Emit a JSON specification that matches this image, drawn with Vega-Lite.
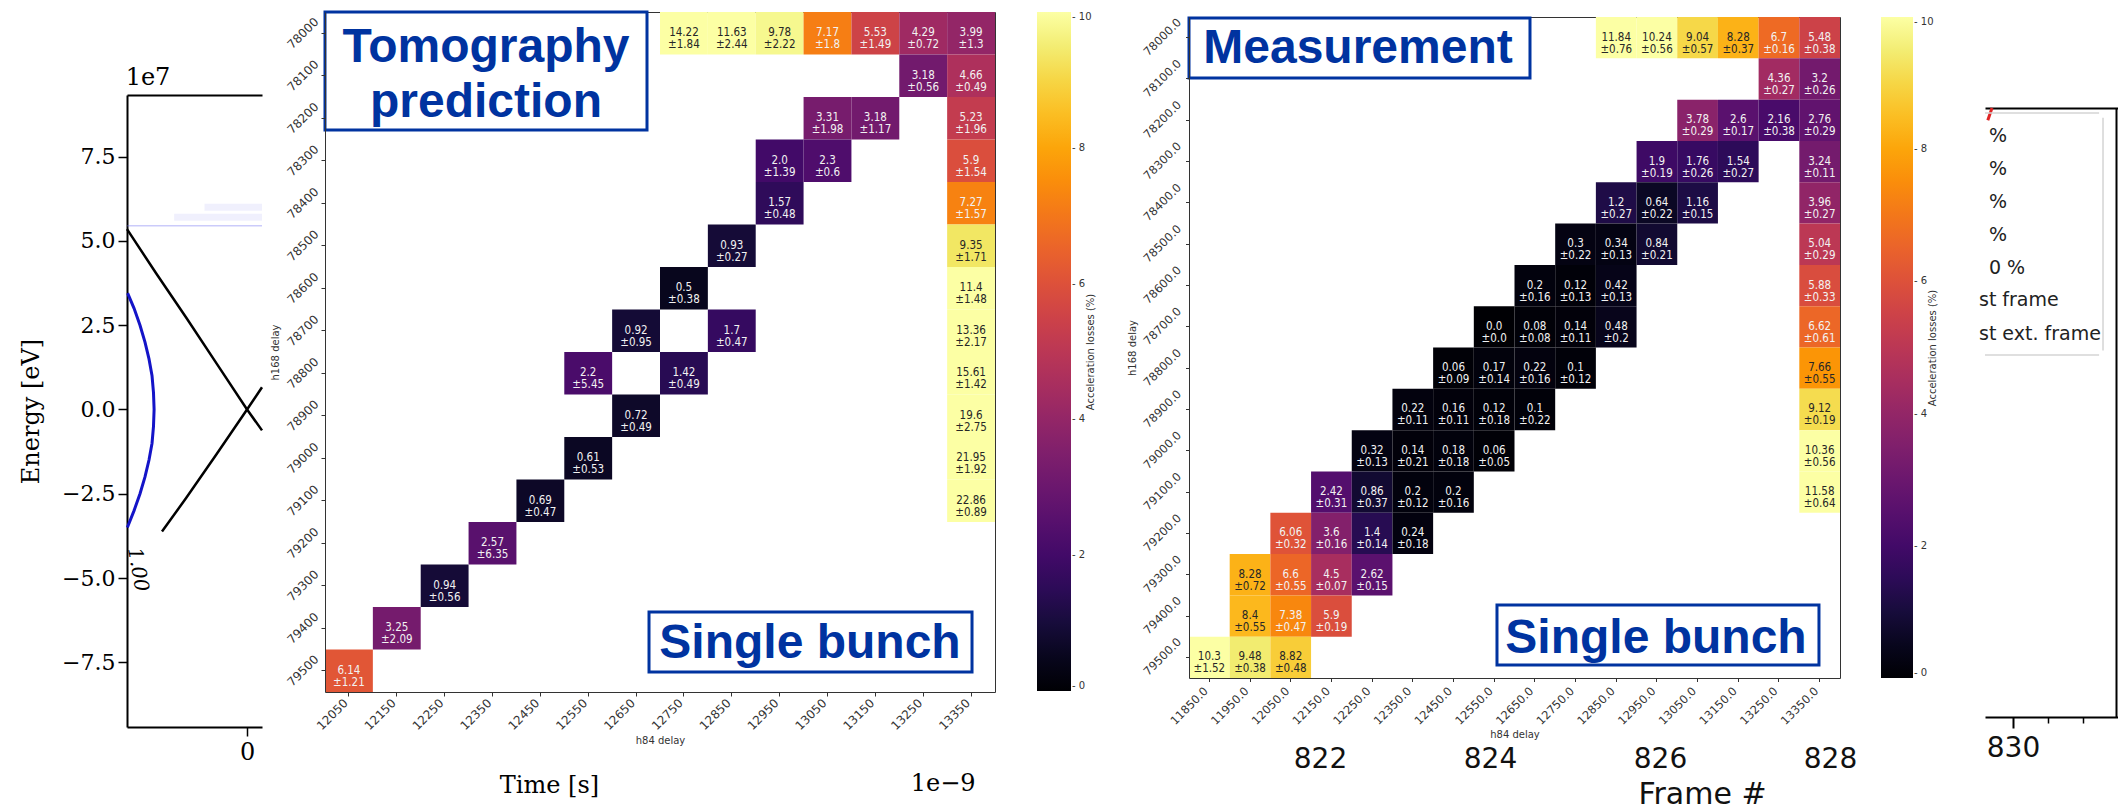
{
  "$schema": "https://vega.github.io/schema/vega-lite/v6.json",
  "width": 2118,
  "height": 809,
  "autosize": "none",
  "padding": 0,
  "background": "white",
  "config": {
    "view": {"stroke": null},
    "axis": {"grid": false, "labelFont": "DejaVu Sans", "titleFont": "DejaVu Sans", "titleFontWeight": "normal", "labelColor": "#333", "titleColor": "#333", "domainColor": "#333", "tickColor": "#333"},
    "legend": {"labelFont": "DejaVu Sans", "titleFont": "DejaVu Sans", "titleFontWeight": "normal"}
  },
  "datasets": {
    "tomo": [
      {"h84": 12750, "h168": 78000, "v": 14.22, "e": 1.84}, {"h84": 12850, "h168": 78000, "v": 11.63, "e": 2.44}, {"h84": 12950, "h168": 78000, "v": 9.78, "e": 2.22}, {"h84": 13050, "h168": 78000, "v": 7.17, "e": 1.8}, {"h84": 13150, "h168": 78000, "v": 5.53, "e": 1.49}, {"h84": 13250, "h168": 78000, "v": 4.29, "e": 0.72}, {"h84": 13350, "h168": 78000, "v": 3.99, "e": 1.3},
      {"h84": 13250, "h168": 78100, "v": 3.18, "e": 0.56}, {"h84": 13350, "h168": 78100, "v": 4.66, "e": 0.49},
      {"h84": 13050, "h168": 78200, "v": 3.31, "e": 1.98}, {"h84": 13150, "h168": 78200, "v": 3.18, "e": 1.17}, {"h84": 13350, "h168": 78200, "v": 5.23, "e": 1.96},
      {"h84": 12950, "h168": 78300, "v": 2.0, "e": 1.39}, {"h84": 13050, "h168": 78300, "v": 2.3, "e": 0.6}, {"h84": 13350, "h168": 78300, "v": 5.9, "e": 1.54},
      {"h84": 12950, "h168": 78400, "v": 1.57, "e": 0.48}, {"h84": 13350, "h168": 78400, "v": 7.27, "e": 1.57},
      {"h84": 12850, "h168": 78500, "v": 0.93, "e": 0.27}, {"h84": 13350, "h168": 78500, "v": 9.35, "e": 1.71},
      {"h84": 12750, "h168": 78600, "v": 0.5, "e": 0.38}, {"h84": 13350, "h168": 78600, "v": 11.4, "e": 1.48},
      {"h84": 12650, "h168": 78700, "v": 0.92, "e": 0.95}, {"h84": 12850, "h168": 78700, "v": 1.7, "e": 0.47}, {"h84": 13350, "h168": 78700, "v": 13.36, "e": 2.17},
      {"h84": 12550, "h168": 78800, "v": 2.2, "e": 5.45}, {"h84": 12750, "h168": 78800, "v": 1.42, "e": 0.49}, {"h84": 13350, "h168": 78800, "v": 15.61, "e": 1.42},
      {"h84": 12650, "h168": 78900, "v": 0.72, "e": 0.49}, {"h84": 13350, "h168": 78900, "v": 19.6, "e": 2.75},
      {"h84": 12550, "h168": 79000, "v": 0.61, "e": 0.53}, {"h84": 13350, "h168": 79000, "v": 21.95, "e": 1.92},
      {"h84": 12450, "h168": 79100, "v": 0.69, "e": 0.47}, {"h84": 13350, "h168": 79100, "v": 22.86, "e": 0.89},
      {"h84": 12350, "h168": 79200, "v": 2.57, "e": 6.35},
      {"h84": 12250, "h168": 79300, "v": 0.94, "e": 0.56},
      {"h84": 12150, "h168": 79400, "v": 3.25, "e": 2.09},
      {"h84": 12050, "h168": 79500, "v": 6.14, "e": 1.21}
    ],
    "meas": [
      {"h84": 12850, "h168": 78000, "v": 11.84, "e": 0.76}, {"h84": 12950, "h168": 78000, "v": 10.24, "e": 0.56}, {"h84": 13050, "h168": 78000, "v": 9.04, "e": 0.57}, {"h84": 13150, "h168": 78000, "v": 8.28, "e": 0.37}, {"h84": 13250, "h168": 78000, "v": 6.7, "e": 0.16}, {"h84": 13350, "h168": 78000, "v": 5.48, "e": 0.38},
      {"h84": 13250, "h168": 78100, "v": 4.36, "e": 0.27}, {"h84": 13350, "h168": 78100, "v": 3.2, "e": 0.26},
      {"h84": 13050, "h168": 78200, "v": 3.78, "e": 0.29}, {"h84": 13150, "h168": 78200, "v": 2.6, "e": 0.17}, {"h84": 13250, "h168": 78200, "v": 2.16, "e": 0.38}, {"h84": 13350, "h168": 78200, "v": 2.76, "e": 0.29},
      {"h84": 12950, "h168": 78300, "v": 1.9, "e": 0.19}, {"h84": 13050, "h168": 78300, "v": 1.76, "e": 0.26}, {"h84": 13150, "h168": 78300, "v": 1.54, "e": 0.27}, {"h84": 13350, "h168": 78300, "v": 3.24, "e": 0.11},
      {"h84": 12850, "h168": 78400, "v": 1.2, "e": 0.27}, {"h84": 12950, "h168": 78400, "v": 0.64, "e": 0.22}, {"h84": 13050, "h168": 78400, "v": 1.16, "e": 0.15}, {"h84": 13350, "h168": 78400, "v": 3.96, "e": 0.27},
      {"h84": 12750, "h168": 78500, "v": 0.3, "e": 0.22}, {"h84": 12850, "h168": 78500, "v": 0.34, "e": 0.13}, {"h84": 12950, "h168": 78500, "v": 0.84, "e": 0.21}, {"h84": 13350, "h168": 78500, "v": 5.04, "e": 0.29},
      {"h84": 12650, "h168": 78600, "v": 0.2, "e": 0.16}, {"h84": 12750, "h168": 78600, "v": 0.12, "e": 0.13}, {"h84": 12850, "h168": 78600, "v": 0.42, "e": 0.13}, {"h84": 13350, "h168": 78600, "v": 5.88, "e": 0.33},
      {"h84": 12550, "h168": 78700, "v": 0.0, "e": 0.0}, {"h84": 12650, "h168": 78700, "v": 0.08, "e": 0.08}, {"h84": 12750, "h168": 78700, "v": 0.14, "e": 0.11}, {"h84": 12850, "h168": 78700, "v": 0.48, "e": 0.2}, {"h84": 13350, "h168": 78700, "v": 6.62, "e": 0.61},
      {"h84": 12450, "h168": 78800, "v": 0.06, "e": 0.09}, {"h84": 12550, "h168": 78800, "v": 0.17, "e": 0.14}, {"h84": 12650, "h168": 78800, "v": 0.22, "e": 0.16}, {"h84": 12750, "h168": 78800, "v": 0.1, "e": 0.12}, {"h84": 13350, "h168": 78800, "v": 7.66, "e": 0.55},
      {"h84": 12350, "h168": 78900, "v": 0.22, "e": 0.11}, {"h84": 12450, "h168": 78900, "v": 0.16, "e": 0.11}, {"h84": 12550, "h168": 78900, "v": 0.12, "e": 0.18}, {"h84": 12650, "h168": 78900, "v": 0.1, "e": 0.22}, {"h84": 13350, "h168": 78900, "v": 9.12, "e": 0.19},
      {"h84": 12250, "h168": 79000, "v": 0.32, "e": 0.13}, {"h84": 12350, "h168": 79000, "v": 0.14, "e": 0.21}, {"h84": 12450, "h168": 79000, "v": 0.18, "e": 0.18}, {"h84": 12550, "h168": 79000, "v": 0.06, "e": 0.05}, {"h84": 13350, "h168": 79000, "v": 10.36, "e": 0.56},
      {"h84": 12150, "h168": 79100, "v": 2.42, "e": 0.31}, {"h84": 12250, "h168": 79100, "v": 0.86, "e": 0.37}, {"h84": 12350, "h168": 79100, "v": 0.2, "e": 0.12}, {"h84": 12450, "h168": 79100, "v": 0.2, "e": 0.16}, {"h84": 13350, "h168": 79100, "v": 11.58, "e": 0.64},
      {"h84": 12050, "h168": 79200, "v": 6.06, "e": 0.32}, {"h84": 12150, "h168": 79200, "v": 3.6, "e": 0.16}, {"h84": 12250, "h168": 79200, "v": 1.4, "e": 0.14}, {"h84": 12350, "h168": 79200, "v": 0.24, "e": 0.18},
      {"h84": 11950, "h168": 79300, "v": 8.28, "e": 0.72}, {"h84": 12050, "h168": 79300, "v": 6.6, "e": 0.55}, {"h84": 12150, "h168": 79300, "v": 4.5, "e": 0.07}, {"h84": 12250, "h168": 79300, "v": 2.62, "e": 0.15},
      {"h84": 11950, "h168": 79400, "v": 8.4, "e": 0.55}, {"h84": 12050, "h168": 79400, "v": 7.38, "e": 0.47}, {"h84": 12150, "h168": 79400, "v": 5.9, "e": 0.19},
      {"h84": 11850, "h168": 79500, "v": 10.3, "e": 1.52}, {"h84": 11950, "h168": 79500, "v": 9.48, "e": 0.38}, {"h84": 12050, "h168": 79500, "v": 8.82, "e": 0.48}
    ],
    "sep": [
      {"curve": "A", "t": -0.988, "E": 5.35}, {"curve": "A", "t": -0.75, "E": 4.05}, {"curve": "A", "t": -0.5, "E": 2.72}, {"curve": "A", "t": -0.25, "E": 1.36}, {"curve": "A", "t": 0.0, "E": 0.0}, {"curve": "A", "t": 0.123, "E": -0.62},
      {"curve": "B", "t": -0.70, "E": -3.62}, {"curve": "B", "t": -0.5, "E": -2.62}, {"curve": "B", "t": -0.25, "E": -1.32}, {"curve": "B", "t": 0.0, "E": 0.0}, {"curve": "B", "t": 0.123, "E": 0.66}
    ],
    "arc": [
      {"i": 0, "t": -0.983, "E": 3.45}, {"i": 1, "t": -0.930, "E": 3.0}, {"i": 2, "t": -0.881, "E": 2.5}, {"i": 3, "t": -0.840, "E": 2.0}, {"i": 4, "t": -0.807, "E": 1.5}, {"i": 5, "t": -0.782, "E": 1.0}, {"i": 6, "t": -0.770, "E": 0.5}, {"i": 7, "t": -0.765, "E": 0.0}, {"i": 8, "t": -0.770, "E": -0.5}, {"i": 9, "t": -0.782, "E": -1.0}, {"i": 10, "t": -0.807, "E": -1.5}, {"i": 11, "t": -0.840, "E": -2.0}, {"i": 12, "t": -0.881, "E": -2.5}, {"i": 13, "t": -0.930, "E": -3.0}, {"i": 14, "t": -0.985, "E": -3.5}
    ],
    "band": [
      {"b": "w1", "t": -0.6, "E": 5.7}, {"b": "w1", "t": 0.123, "E": 5.7},
      {"b": "w2", "t": -0.35, "E": 6.0}, {"b": "w2", "t": 0.123, "E": 6.0}
    ],
    "thin": [
      {"t": -0.988, "E": 5.45}, {"t": 0.123, "E": 5.45}
    ],
    "red": [
      {"f": 829.64, "p": 0.98}, {"f": 829.7, "p": 1.0}
    ]
  },
  "resolve": {
    "scale": {"x": "independent", "y": "independent", "color": "independent"},
    "axis": {"x": "independent", "y": "independent"},
    "legend": {"color": "independent"}
  },
  "layer": [
    {
      "data": {"name": "band"},
      "mark": {"type": "line", "color": "#6a6af0", "strokeWidth": 7, "opacity": 0.1},
      "encoding": {
        "x": {"field": "t", "type": "quantitative", "scale": {"domain": [-0.988, 0.123], "range": [127, 262], "zero": false, "nice": false}, "axis": null},
        "y": {"field": "E", "type": "quantitative", "scale": {"domain": [-9.42, 9.33], "range": [727, 95], "zero": false, "nice": false}, "axis": null},
        "detail": {"field": "b"}
      }
    },
    {
      "data": {"name": "thin"},
      "mark": {"type": "line", "color": "#6a6af0", "strokeWidth": 1.5, "opacity": 0.35},
      "encoding": {
        "x": {"field": "t", "type": "quantitative", "scale": {"domain": [-0.988, 0.123], "range": [127, 262], "zero": false, "nice": false}, "axis": null},
        "y": {"field": "E", "type": "quantitative", "scale": {"domain": [-9.42, 9.33], "range": [727, 95], "zero": false, "nice": false}, "axis": null}
      }
    },
    {
      "data": {"name": "sep"},
      "mark": {"type": "line", "color": "black", "strokeWidth": 2.5},
      "encoding": {
        "x": {"field": "t", "type": "quantitative", "scale": {"domain": [-0.988, 0.123], "range": [127, 262], "zero": false, "nice": false},
              "axis": {"orient": "bottom", "offset": -82, "values": [0], "format": "d", "labelFont": "DejaVu Serif", "labelFontSize": 24, "labelColor": "black", "tickSize": 9, "tickColor": "black", "tickWidth": 1.5, "domainColor": "black", "domainWidth": 2, "labelPadding": 4,
                       "title": "Time [s]", "titleFont": "DejaVu Serif", "titleFontSize": 24, "titleColor": "black", "titleX": 549, "titleY": 65, "titleBaseline": "alphabetic", "titleAlign": "center", "titleAnchor": null}},
        "y": {"field": "E", "type": "quantitative", "scale": {"domain": [-9.42, 9.33], "range": [727, 95], "zero": false, "nice": false},
              "axis": {"orient": "left", "offset": -127, "values": [-7.5, -5, -2.5, 0, 2.5, 5, 7.5], "format": ".1f", "labelFont": "DejaVu Serif", "labelFontSize": 22, "labelColor": "black", "tickSize": 9, "tickColor": "black", "tickWidth": 1.5, "domainColor": "black", "domainWidth": 2, "labelPadding": 3,
                       "title": "Energy [eV]", "titleFont": "DejaVu Serif", "titleFontSize": 24, "titleColor": "black", "titlePadding": 18}},
        "detail": {"field": "curve"}
      }
    },
    {
      "data": {"name": "arc"},
      "mark": {"type": "line", "color": "#1414c8", "strokeWidth": 3},
      "encoding": {
        "x": {"field": "t", "type": "quantitative", "scale": {"domain": [-0.988, 0.123], "range": [127, 262], "zero": false, "nice": false},
              "axis": {"orient": "top", "offset": -95, "labels": false, "ticks": false, "title": null, "domainColor": "black", "domainWidth": 2}},
        "y": {"field": "E", "type": "quantitative", "scale": {"domain": [-9.42, 9.33], "range": [727, 95], "zero": false, "nice": false}, "axis": null},
        "order": {"field": "i"}
      }
    },
    {
      "data": {"values": [{}]},
      "mark": {"type": "text", "text": "1.00", "font": "DejaVu Serif", "fontStyle": "italic", "fontSize": 20, "angle": 80, "color": "black", "align": "center", "baseline": "middle"},
      "encoding": {
        "x": {"datum": -0.9, "type": "quantitative", "scale": {"domain": [-0.988, 0.123], "range": [127, 262], "zero": false, "nice": false}, "axis": null},
        "y": {"datum": -4.75, "type": "quantitative", "scale": {"domain": [-9.42, 9.33], "range": [727, 95], "zero": false, "nice": false}, "axis": null}
      }
    },
    {
      "data": {"values": [{}]},
      "mark": {"type": "text", "text": "1e7", "font": "DejaVu Serif", "fontSize": 24, "color": "black", "align": "center", "baseline": "alphabetic"},
      "encoding": {
        "x": {"datum": -0.815, "type": "quantitative", "scale": {"domain": [-0.988, 0.123], "range": [127, 262], "zero": false, "nice": false}, "axis": null},
        "y": {"datum": 9.63, "type": "quantitative", "scale": {"domain": [-9.42, 9.33], "range": [727, 95], "zero": false, "nice": false}, "axis": null}
      }
    },
    {
      "data": {"values": [{}]},
      "mark": {"type": "text", "text": "1e−9", "font": "DejaVu Serif", "fontSize": 24, "color": "black", "align": "center", "baseline": "alphabetic"},
      "encoding": {
        "x": {"datum": 5.728, "type": "quantitative", "scale": {"domain": [-0.988, 0.123], "range": [127, 262], "zero": false, "nice": false}, "axis": null},
        "y": {"datum": -11.32, "type": "quantitative", "scale": {"domain": [-9.42, 9.33], "range": [727, 95], "zero": false, "nice": false}, "axis": null}
      }
    },
    {
      "data": {"values": [{}]},
      "mark": {"type": "point", "opacity": 0},
      "encoding": {
        "x": {"datum": 825, "type": "quantitative", "scale": {"domain": [820, 830], "range": [1150, 2000], "zero": false, "nice": false},
              "axis": {"orient": "bottom", "offset": -64, "values": [822, 824, 826, 828], "format": "d", "domain": false, "ticks": false, "labelFont": "DejaVu Sans", "labelFontSize": 28, "labelColor": "#111", "labelPadding": 0,
                       "title": "Frame #", "titleFont": "DejaVu Sans", "titleFontSize": 30, "titleColor": "#111", "titleX": 1702, "titleY": 58, "titleBaseline": "alphabetic", "titleAlign": "center", "titleAnchor": null}}
      }
    },
    {
      "data": {"name": "red"},
      "mark": {"type": "line", "color": "#e02424", "strokeWidth": 3},
      "encoding": {
        "x": {"field": "f", "type": "quantitative", "scale": {"domain": [829.6, 831.5], "range": [1985, 2118], "zero": false, "nice": false},
              "axis": {"orient": "bottom", "offset": -92, "values": [830], "format": "d", "tickSize": 11, "tickWidth": 2, "tickColor": "black", "domainColor": "black", "domainWidth": 2, "labelFont": "DejaVu Sans", "labelFontSize": 28, "labelColor": "#111", "labelPadding": 6, "title": null}},
        "y": {"field": "p", "type": "quantitative", "scale": {"domain": [0, 1], "range": [717, 108], "zero": false, "nice": false},
              "axis": {"orient": "right", "offset": -2, "labels": false, "ticks": false, "title": null, "domainColor": "black", "domainWidth": 2}}
      }
    },
    {
      "data": {"values": [{}]},
      "mark": {"type": "point", "opacity": 0},
      "encoding": {
        "x": {"datum": 830, "type": "quantitative", "scale": {"domain": [829.6, 831.5], "range": [1985, 2118], "zero": false, "nice": false},
              "axis": {"orient": "bottom", "offset": -92, "values": [830.5, 831], "labels": false, "domain": false, "tickSize": 6, "tickWidth": 1.5, "tickColor": "black", "title": null}}
      }
    },
    {
      "data": {"values": [{}]},
      "mark": {"type": "point", "opacity": 0},
      "encoding": {
        "x": {"datum": 830, "type": "quantitative", "scale": {"domain": [829.6, 831.5], "range": [1985, 2118], "zero": false, "nice": false},
              "axis": {"orient": "top", "offset": -108, "labels": false, "ticks": false, "domainColor": "black", "domainWidth": 2, "title": null}}
      }
    },
    {
      "data": {"values": [{}]},
      "mark": {"type": "rule", "color": "#d4d4d4", "strokeWidth": 1.5},
      "encoding": {
        "x": {"datum": 829.6, "type": "quantitative", "scale": {"domain": [829.6, 831.5], "range": [1985, 2118], "zero": false, "nice": false}, "axis": null},
        "x2": {"datum": 831.23},
        "y": {"datum": 0.9918, "type": "quantitative", "scale": {"domain": [0, 1], "range": [717, 108], "zero": false, "nice": false}, "axis": null}
      }
    },
    {
      "data": {"values": [{}]},
      "mark": {"type": "rule", "color": "#d4d4d4", "strokeWidth": 1.5},
      "encoding": {
        "x": {"datum": 829.6, "type": "quantitative", "scale": {"domain": [829.6, 831.5], "range": [1985, 2118], "zero": false, "nice": false}, "axis": null},
        "x2": {"datum": 831.23},
        "y": {"datum": 0.5944, "type": "quantitative", "scale": {"domain": [0, 1], "range": [717, 108], "zero": false, "nice": false}, "axis": null}
      }
    },
    {
      "data": {"values": [{}]},
      "mark": {"type": "rule", "color": "#d4d4d4", "strokeWidth": 1.5},
      "encoding": {
        "x": {"datum": 831.286, "type": "quantitative", "scale": {"domain": [829.6, 831.5], "range": [1985, 2118], "zero": false, "nice": false}, "axis": null},
        "y": {"datum": 0.984, "type": "quantitative", "scale": {"domain": [0, 1], "range": [717, 108], "zero": false, "nice": false}, "axis": null},
        "y2": {"datum": 0.602}
      }
    },
    {
      "data": {"values": [{}]},
      "mark": {"type": "text", "text": ["\u00a0%", "\u00a0%", "\u00a0%", "\u00a0%", "0 %"], "font": "DejaVu Sans", "fontSize": 19, "lineHeight": 33, "color": "#222", "align": "left", "baseline": "alphabetic"},
      "encoding": {
        "x": {"datum": 829.657, "type": "quantitative", "scale": {"domain": [829.6, 831.5], "range": [1985, 2118], "zero": false, "nice": false}, "axis": null},
        "y": {"datum": 0.9442, "type": "quantitative", "scale": {"domain": [0, 1], "range": [717, 108], "zero": false, "nice": false}, "axis": null}
      }
    },
    {
      "data": {"values": [{}]},
      "mark": {"type": "text", "text": ["st frame", "st ext. frame"], "font": "DejaVu Sans", "fontSize": 19, "lineHeight": 34, "color": "#222", "align": "left", "baseline": "alphabetic"},
      "encoding": {
        "x": {"datum": 829.514, "type": "quantitative", "scale": {"domain": [829.6, 831.5], "range": [1985, 2118], "zero": false, "nice": false}, "axis": null},
        "y": {"datum": 0.6749, "type": "quantitative", "scale": {"domain": [0, 1], "range": [717, 108], "zero": false, "nice": false}, "axis": null}
      }
    },
    {
      "data": {"name": "tomo"},
      "mark": {"type": "rect"},
      "encoding": {
        "x": {"field": "h84", "type": "ordinal",
              "scale": {"domain": [12050, 12150, 12250, 12350, 12450, 12550, 12650, 12750, 12850, 12950, 13050, 13150, 13250, 13350], "range": [325, 995], "paddingInner": 0, "paddingOuter": 0},
              "axis": {"orient": "bottom", "offset": -117, "title": "h84 delay", "titleFontSize": 10, "titlePadding": 4, "labelAngle": -45, "labelAlign": "center", "labelBaseline": "middle", "labelOffset": -16.5, "labelPadding": 18, "labelFontSize": 12, "tickSize": 4}},
        "y": {"field": "h168", "type": "ordinal",
              "scale": {"domain": [78000, 78100, 78200, 78300, 78400, 78500, 78600, 78700, 78800, 78900, 79000, 79100, 79200, 79300, 79400, 79500], "range": [12, 692], "paddingInner": 0, "paddingOuter": 0},
              "axis": {"orient": "left", "offset": -325, "title": "h168 delay", "titleFontSize": 10, "titlePadding": 4, "labelAngle": -45, "labelAlign": "center", "labelBaseline": "middle", "labelPadding": 18.5, "labelFontSize": 12, "tickSize": 4}},
        "color": {"field": "v", "type": "quantitative", "scale": {"scheme": "inferno", "domain": [0, 10], "clamp": true},
                  "legend": {"orient": "none", "legendX": 1037, "legendY": 12, "direction": "vertical", "gradientLength": 679, "gradientThickness": 34, "gradientStrokeWidth": 0, "values": [0, 2, 4, 6, 8, 10], "labelExpr": "'- ' + datum.label", "labelFontSize": 10, "labelColor": "#333", "labelOffset": 1, "labelBaseline": "middle", "padding": 0,
                             "title": "Acceleration losses (%)", "titleOrient": "right", "titleAnchor": "middle", "titleFontSize": 10, "titleColor": "#333", "titlePadding": 4,
                             "encode": {"title": {"update": {"angle": {"value": -90}}}}}}
      }
    },
    {
      "data": {"name": "tomo"},
      "transform": [{"calculate": "(datum.v % 1 === 0 ? format(datum.v, '.1f') : '' + datum.v) + '\\n±' + (datum.e % 1 === 0 ? format(datum.e, '.1f') : '' + datum.e)", "as": "lab"}],
      "mark": {"type": "text", "lineBreak": "\n", "lineHeight": 12, "fontSize": 11.5, "font": "DejaVu Sans Condensed, Liberation Sans Narrow, DejaVu Sans", "baseline": "middle", "align": "center"},
      "encoding": {
        "x": {"field": "h84", "type": "ordinal",
              "scale": {"domain": [12050, 12150, 12250, 12350, 12450, 12550, 12650, 12750, 12850, 12950, 13050, 13150, 13250, 13350], "range": [325, 995], "paddingInner": 0, "paddingOuter": 0},
              "axis": {"orient": "top", "offset": -12, "labels": false, "ticks": false, "title": null}},
        "y": {"field": "h168", "type": "ordinal",
              "scale": {"domain": [78000, 78100, 78200, 78300, 78400, 78500, 78600, 78700, 78800, 78900, 79000, 79100, 79200, 79300, 79400, 79500], "range": [12, 692], "paddingInner": 0, "paddingOuter": 0},
              "axis": {"orient": "right", "offset": -1123, "labels": false, "ticks": false, "title": null}},
        "text": {"field": "lab", "type": "nominal"},
        "color": {"condition": {"test": "datum.v >= 7.5", "value": "#262626"}, "value": "#f2f2f2"}
      }
    },
    {
      "data": {"name": "meas"},
      "mark": {"type": "rect"},
      "encoding": {
        "x": {"field": "h84", "type": "ordinal",
              "scale": {"domain": [11850, 11950, 12050, 12150, 12250, 12350, 12450, 12550, 12650, 12750, 12850, 12950, 13050, 13150, 13250, 13350], "range": [1189, 1840], "paddingInner": 0, "paddingOuter": 0},
              "axis": {"orient": "bottom", "offset": -131, "title": "h84 delay", "titleFontSize": 10, "titlePadding": 3, "labelExpr": "format(datum.value, '.1f')", "labelAngle": -45, "labelAlign": "center", "labelBaseline": "middle", "labelOffset": -19.5, "labelPadding": 24.5, "labelFontSize": 11.5, "tickSize": 3.5}},
        "y": {"field": "h168", "type": "ordinal",
              "scale": {"domain": [78000, 78100, 78200, 78300, 78400, 78500, 78600, 78700, 78800, 78900, 79000, 79100, 79200, 79300, 79400, 79500], "range": [17, 678], "paddingInner": 0, "paddingOuter": 0},
              "axis": {"orient": "left", "offset": -1189, "title": "h168 delay", "titleFontSize": 10, "titlePadding": 4, "labelExpr": "format(datum.value, '.1f')", "labelAngle": -45, "labelAlign": "center", "labelBaseline": "middle", "labelPadding": 23, "labelFontSize": 11.5, "tickSize": 3.5}},
        "color": {"field": "v", "type": "quantitative", "scale": {"scheme": "inferno", "domain": [0, 10], "clamp": true},
                  "legend": {"orient": "none", "legendX": 1881, "legendY": 17, "direction": "vertical", "gradientLength": 661, "gradientThickness": 32, "gradientStrokeWidth": 0, "values": [0, 2, 4, 6, 8, 10], "labelExpr": "'- ' + datum.label", "labelFontSize": 10, "labelColor": "#333", "labelOffset": 1, "labelBaseline": "middle", "padding": 0,
                             "title": "Acceleration losses (%)", "titleOrient": "right", "titleAnchor": "middle", "titleFontSize": 10, "titleColor": "#333", "titlePadding": 4,
                             "encode": {"title": {"update": {"angle": {"value": -90}}}}}}
      }
    },
    {
      "data": {"name": "meas"},
      "transform": [{"calculate": "(datum.v % 1 === 0 ? format(datum.v, '.1f') : '' + datum.v) + '\\n±' + (datum.e % 1 === 0 ? format(datum.e, '.1f') : '' + datum.e)", "as": "lab"}],
      "mark": {"type": "text", "lineBreak": "\n", "lineHeight": 12, "fontSize": 11.5, "font": "DejaVu Sans Condensed, Liberation Sans Narrow, DejaVu Sans", "baseline": "middle", "align": "center"},
      "encoding": {
        "x": {"field": "h84", "type": "ordinal",
              "scale": {"domain": [11850, 11950, 12050, 12150, 12250, 12350, 12450, 12550, 12650, 12750, 12850, 12950, 13050, 13150, 13250, 13350], "range": [1189, 1840], "paddingInner": 0, "paddingOuter": 0},
              "axis": {"orient": "top", "offset": -17, "labels": false, "ticks": false, "title": null}},
        "y": {"field": "h168", "type": "ordinal",
              "scale": {"domain": [78000, 78100, 78200, 78300, 78400, 78500, 78600, 78700, 78800, 78900, 79000, 79100, 79200, 79300, 79400, 79500], "range": [17, 678], "paddingInner": 0, "paddingOuter": 0},
              "axis": {"orient": "right", "offset": -278, "labels": false, "ticks": false, "title": null}},
        "text": {"field": "lab", "type": "nominal"},
        "color": {"condition": {"test": "datum.v >= 7.5", "value": "#262626"}, "value": "#f2f2f2"}
      }
    },
    {
      "data": {"values": [{}]},
      "mark": {"type": "rect", "fill": "white", "stroke": "#0033a0", "strokeWidth": 3},
      "encoding": {
        "x": {"datum": 0, "type": "quantitative", "scale": {"domain": [0, 1], "range": [325, 995], "zero": false, "nice": false}, "axis": null},
        "x2": {"datum": 0.4806},
        "y": {"datum": 0, "type": "quantitative", "scale": {"domain": [0, 1], "range": [12, 692], "zero": false, "nice": false}, "axis": null},
        "y2": {"datum": 0.1735}
      }
    },
    {
      "data": {"values": [{}]},
      "mark": {"type": "text", "text": ["Tomography", "prediction"], "font": "Liberation Sans", "fontWeight": "bold", "fontSize": 48, "lineHeight": 55, "color": "#0033a0", "align": "center", "baseline": "alphabetic"},
      "encoding": {
        "x": {"datum": 0.2403, "type": "quantitative", "scale": {"domain": [0, 1], "range": [325, 995], "zero": false, "nice": false}, "axis": null},
        "y": {"datum": 0.0735, "type": "quantitative", "scale": {"domain": [0, 1], "range": [12, 692], "zero": false, "nice": false}, "axis": null}
      }
    },
    {
      "data": {"values": [{}]},
      "mark": {"type": "rect", "fill": "white", "stroke": "#0033a0", "strokeWidth": 3},
      "encoding": {
        "x": {"datum": 0.4836, "type": "quantitative", "scale": {"domain": [0, 1], "range": [325, 995], "zero": false, "nice": false}, "axis": null},
        "x2": {"datum": 0.9657},
        "y": {"datum": 0.8824, "type": "quantitative", "scale": {"domain": [0, 1], "range": [12, 692], "zero": false, "nice": false}, "axis": null},
        "y2": {"datum": 0.9706}
      }
    },
    {
      "data": {"values": [{}]},
      "mark": {"type": "text", "text": "Single bunch", "font": "Liberation Sans", "fontWeight": "bold", "fontSize": 48, "color": "#0033a0", "align": "center", "baseline": "alphabetic"},
      "encoding": {
        "x": {"datum": 0.7239, "type": "quantitative", "scale": {"domain": [0, 1], "range": [325, 995], "zero": false, "nice": false}, "axis": null},
        "y": {"datum": 0.95, "type": "quantitative", "scale": {"domain": [0, 1], "range": [12, 692], "zero": false, "nice": false}, "axis": null}
      }
    },
    {
      "data": {"values": [{}]},
      "mark": {"type": "rect", "fill": "white", "stroke": "#0033a0", "strokeWidth": 3},
      "encoding": {
        "x": {"datum": 0, "type": "quantitative", "scale": {"domain": [0, 1], "range": [1189, 1840], "zero": false, "nice": false}, "axis": null},
        "x2": {"datum": 0.5238},
        "y": {"datum": 0.0015, "type": "quantitative", "scale": {"domain": [0, 1], "range": [17, 678], "zero": false, "nice": false}, "axis": null},
        "y2": {"datum": 0.0923}
      }
    },
    {
      "data": {"values": [{}]},
      "mark": {"type": "text", "text": "Measurement", "font": "Liberation Sans", "fontWeight": "bold", "fontSize": 48, "color": "#0033a0", "align": "center", "baseline": "alphabetic"},
      "encoding": {
        "x": {"datum": 0.2596, "type": "quantitative", "scale": {"domain": [0, 1], "range": [1189, 1840], "zero": false, "nice": false}, "axis": null},
        "y": {"datum": 0.0696, "type": "quantitative", "scale": {"domain": [0, 1], "range": [17, 678], "zero": false, "nice": false}, "axis": null}
      }
    },
    {
      "data": {"values": [{}]},
      "mark": {"type": "rect", "fill": "white", "stroke": "#0033a0", "strokeWidth": 3},
      "encoding": {
        "x": {"datum": 0.4731, "type": "quantitative", "scale": {"domain": [0, 1], "range": [1189, 1840], "zero": false, "nice": false}, "axis": null},
        "x2": {"datum": 0.9677},
        "y": {"datum": 0.8896, "type": "quantitative", "scale": {"domain": [0, 1], "range": [17, 678], "zero": false, "nice": false}, "axis": null},
        "y2": {"datum": 0.9803}
      }
    },
    {
      "data": {"values": [{}]},
      "mark": {"type": "text", "text": "Single bunch", "font": "Liberation Sans", "fontWeight": "bold", "fontSize": 48, "color": "#0033a0", "align": "center", "baseline": "alphabetic"},
      "encoding": {
        "x": {"datum": 0.7174, "type": "quantitative", "scale": {"domain": [0, 1], "range": [1189, 1840], "zero": false, "nice": false}, "axis": null},
        "y": {"datum": 0.9622, "type": "quantitative", "scale": {"domain": [0, 1], "range": [17, 678], "zero": false, "nice": false}, "axis": null}
      }
    }
  ]
}
